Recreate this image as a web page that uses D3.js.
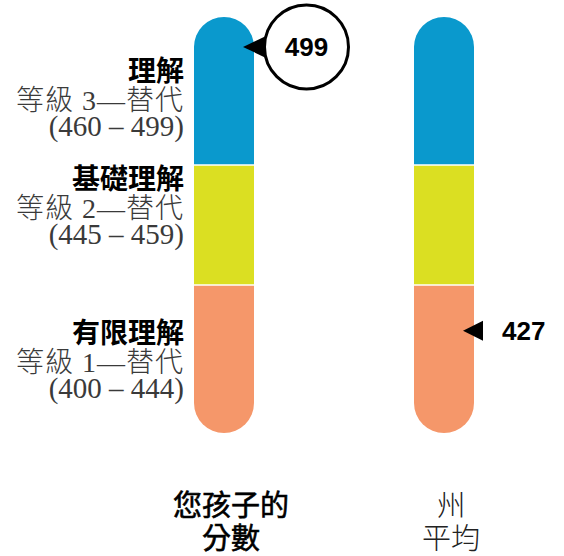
<!DOCTYPE html>
<html>
<head>
<meta charset="utf-8">
<script src="https://cdn.jsdelivr.net/npm/d3@7"></script>
<style>
  body { margin: 0; background: #fff; }
  svg { display: block; }
</style>
</head>
<body>
<svg id="chart"></svg>
<script>
// performance levels, low to high
const levelNames = ["有限理解", "基礎理解", "理解"];
const levelNotes = ["等級 1—替代", "等級 2—替代", "等級 3—替代"];
const levelRanges = ["(400 – 444)", "(445 – 459)", "(460 – 499)"];
// score edges of the colored bands (bottom of bar .. top of bar)
const bandEdges = [388, 444.5, 459.5, 509];
const bandColors = ["#f5976a", "#dbdf22", "#0a99cd"];

const columns = ["child", "state"];
const columnLabels = [["您孩子的", "分數"], ["州", "平均"]];
const scores = [499, 427];

const width = 564, height = 556;
const barWidth = 60;
const cjk = "'Noto Sans CJK TC', 'Noto Sans CJK SC', sans-serif";
const serif = "'Liberation Serif', 'Noto Sans CJK TC', serif";
const numFont = "'Liberation Sans', Arial, sans-serif";

const svg = d3.select("#chart")
    .attr("width", width)
    .attr("height", height);

const x = d3.scalePoint().domain(columns).range([224, 444]);
const y = d3.scaleLinear().domain(bandEdges).range([433, 285, 165, 17]);

const bands = d3.range(levelNames.length).map(i => ({
    lo: bandEdges[i], hi: bandEdges[i + 1], color: bandColors[i]
}));

const defs = svg.append("defs");

columns.forEach((col, ci) => {
    const x0 = x(col) - barWidth / 2;
    defs.append("clipPath")
        .attr("id", "pill-" + col)
        .append("rect")
        .attr("x", x0)
        .attr("y", y(bandEdges[bandEdges.length - 1]))
        .attr("width", barWidth)
        .attr("height", y(bandEdges[0]) - y(bandEdges[bandEdges.length - 1]))
        .attr("rx", barWidth / 2);

    const g = svg.append("g").attr("clip-path", `url(#pill-${col})`);

    g.selectAll("rect")
        .data(bands)
        .enter().append("rect")
        .attr("x", x0)
        .attr("y", d => y(d.hi))
        .attr("width", barWidth)
        .attr("height", d => y(d.lo) - y(d.hi))
        .attr("fill", d => d.color);

    // white gaps between bands
    g.selectAll("line")
        .data(bandEdges.slice(1, -1))
        .enter().append("line")
        .attr("x1", x0)
        .attr("x2", x0 + barWidth)
        .attr("y1", d => y(d))
        .attr("y2", d => y(d))
        .attr("stroke", "#fff")
        .attr("stroke-width", 1.6);

    // bottom labels
    columnLabels[ci].forEach((t, li) => {
        svg.append("text")
            .attr("x", x(col) + 7)
            .attr("y", 516 + li * 33)
            .attr("text-anchor", "middle")
            .style("font-family", cjk)
            .style("font-size", "29px")
            .style("font-weight", ci === 0 ? "normal" : 300)
            .attr("fill", ci === 0 ? "#000" : "#222")
            .attr("stroke", ci === 0 ? "#000" : "none")
            .attr("stroke-width", 0.6)
            .text(t);
    });
});

// score markers
const tipInset = 11, arrowLen = 20, arrowHalf = 10;
columns.forEach((col, ci) => {
    const tipX = x(col) + barWidth / 2 - tipInset;
    const ty = y(scores[ci]);
    const g = svg.append("g");
    if (ci === 0) {
        const cx = tipX + 63.5, r = 42;
        g.append("path")
            .attr("d", `M${tipX},${ty} L${tipX + arrowLen + 3},${ty - arrowHalf - 1} L${tipX + arrowLen + 3},${ty + arrowHalf + 1} Z`)
            .attr("fill", "#000");
        g.append("circle")
            .attr("cx", cx)
            .attr("cy", ty)
            .attr("r", r)
            .attr("fill", "#fff")
            .attr("stroke", "#000")
            .attr("stroke-width", 3);
        g.append("text")
            .attr("x", cx)
            .attr("y", ty)
            .attr("dy", "0.36em")
            .attr("text-anchor", "middle")
            .style("font-family", numFont)
            .style("font-weight", "bold")
            .style("font-size", "26px")
            .text(scores[ci]);
    } else {
        g.append("path")
            .attr("d", `M${tipX},${ty} L${tipX + arrowLen},${ty - arrowHalf} L${tipX + arrowLen},${ty + arrowHalf} Z`)
            .attr("fill", "#000");
        g.append("text")
            .attr("x", tipX + 39)
            .attr("y", ty)
            .attr("dy", "0.36em")
            .style("font-family", numFont)
            .style("font-weight", "bold")
            .style("font-size", "26px")
            .text(scores[ci]);
    }
});

// level labels on the left
const labelRight = 184;
const labelBase = [343, 189, 81];
const lineGap = 29;
levelNames.forEach((name, i) => {
    const g = svg.append("g").attr("text-anchor", "end");
    g.append("text")
        .attr("x", labelRight)
        .attr("y", labelBase[i])
        .style("font-family", cjk)
        .style("font-weight", "bold")
        .style("font-size", "28px")
        .attr("fill", "#000")
        .text(name);
    g.append("text")
        .attr("x", labelRight)
        .attr("y", labelBase[i] + lineGap)
        .style("font-family", serif)
        .style("font-weight", 300)
        .style("font-size", "28px")
        .style("letter-spacing", "1px")
        .attr("fill", "#3a3a3a")
        .text(levelNotes[i]);
    g.append("text")
        .attr("x", labelRight)
        .attr("y", labelBase[i] + lineGap * 2 - 3)
        .style("font-family", serif)
        .style("font-size", "29px")
        .attr("fill", "#3a3a3a")
        .text(levelRanges[i]);
});
</script>
</body>
</html>
